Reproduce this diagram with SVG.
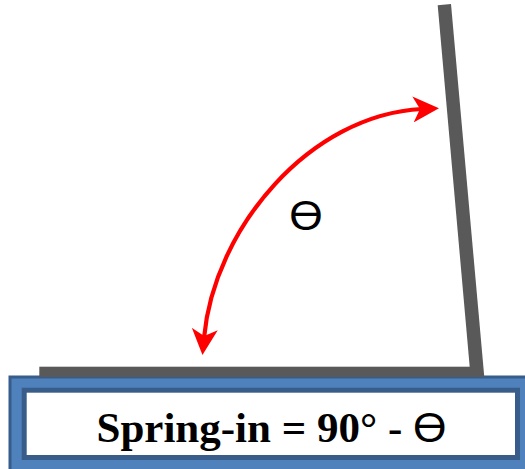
<svg xmlns="http://www.w3.org/2000/svg" width="525" height="469" viewBox="0 0 525 469">
<style>
.bar{fill:#595959}
.arc{fill:none;stroke:#ff0000;stroke-width:4.2}
.lbl{font-family:"Liberation Serif","Times New Roman",serif;font-weight:bold;font-size:43px;fill:#000}
.th{font-family:"Liberation Sans","DejaVu Sans",Arial,sans-serif;font-weight:normal;font-size:43px;fill:#000}
</style>
<defs>
<marker id="ah" markerUnits="userSpaceOnUse" viewBox="0 0 26 26" markerWidth="26" markerHeight="26" refX="9" refY="13" orient="auto-start-reverse">
<path d="M0,0 L26,13 L0,26 L7,13 Z" fill="#ff0000"/>
</marker>
</defs>
<g id="base-panel">
<rect x="10" y="377" width="522" height="96" fill="#4F81BD" stroke="#385D8A" stroke-width="3"/>
<rect x="24.2" y="390.2" width="493.3" height="67.3" fill="#ffffff" stroke="#385D8A" stroke-width="5"/>
<text class="lbl" x="96.5" y="442">Spring-in = 90° - <tspan class="th">ϴ</tspan></text>
</g>
<g id="flange-horizontal">
<rect class="bar" x="39.3" y="366.7" width="440" height="10.3"/>
</g>
<g id="flange-vertical">
<polygon class="bar" points="437.7,5.2 451,4 484.3,377 470.6,377"/>
</g>
<g id="connectors">
<path class="arc" d="M422,109 C310,114.6 214,228 204,338" marker-start="url(#ah)" marker-end="url(#ah)"/>
</g>
<g id="angle-label">
<text class="th" x="306" y="230" text-anchor="middle">ϴ</text>
</g>
</svg>
